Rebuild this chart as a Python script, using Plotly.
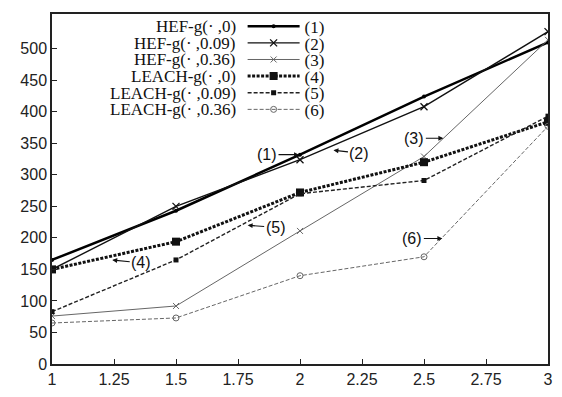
import plotly.graph_objects as go

x_vals = [1, 1.5, 2, 2.5, 3]
hef_0 = [165, 243, 332, 424, 510]
hef_009 = [150, 250, 324, 408, 527]
hef_036 = [76, 92, 211, 329, 514]
leach_0 = [150, 194, 272, 320, 384]
leach_009 = [83, 165, 270, 291, 393]
leach_036 = [65, 73, 140, 170, 377]

series_names = ["HEF-g(\u00b7 ,0)", "HEF-g(\u00b7 ,0.09)", "HEF-g(\u00b7 ,0.36)",
                "LEACH-g(\u00b7 ,0)", "LEACH-g(\u00b7 ,0.09)", "LEACH-g(\u00b7 ,0.36)"]
series_tags = ["(1)", "(2)", "(3)", "(4)", "(5)", "(6)"]
x_ticks = [1, 1.25, 1.5, 1.75, 2, 2.25, 2.5, 2.75, 3]
y_ticks = [0, 50, 100, 150, 200, 250, 300, 350, 400, 450, 500]

# callouts: label, arrow head (data coords), text offset in px
callouts = [
    ("(1)", 1.996, 332, -32, 0),
    ("(2)", 2.135, 339, 26, 3),
    ("(3)", 2.578, 358, -29, 0),
    ("(4)", 1.243, 165, 29, 3),
    ("(5)", 1.789, 220, 28, 2),
    ("(6)", 2.574, 199, -30, 0),
]

styles = [
    dict(line=dict(color="#000", width=2.5), marker=dict(symbol="circle", size=4, color="#000")),
    dict(line=dict(color="#111", width=1.4), marker=dict(symbol="x-thin-open", size=7, line=dict(color="#111", width=1.3))),
    dict(line=dict(color="#666", width=1), marker=dict(symbol="x-thin-open", size=6, line=dict(color="#666", width=1))),
    dict(line=dict(color="#111", width=3, dash="3px,1.5px"), marker=dict(symbol="square", size=8, color="#111")),
    dict(line=dict(color="#222", width=1.4, dash="4px,2px"), marker=dict(symbol="square", size=5, color="#111")),
    dict(line=dict(color="#666", width=1, dash="4px,2px"), marker=dict(symbol="circle-open", size=6, color="#666", line=dict(color="#666", width=1))),
]

data = [hef_0, hef_009, hef_036, leach_0, leach_009, leach_036]

fig = go.Figure()
legend_ids = ["legend", "legend2", "legend3", "legend4", "legend5", "legend6"]
for i, ys in enumerate(data):
    fig.add_trace(go.Scatter(x=x_vals, y=ys, mode="lines+markers", name=series_tags[i],
                             legend=legend_ids[i], showlegend=True, **styles[i]))

# page body has an 8px margin; keep figure inside the viewport (no scrollbars)
OFF = 8
W, H = 562 - 2 * OFF, 397 - 2 * OFF
ml, mr, mt, mb = 52 - OFF, 5, 1, 22
ph = H - mt - mb
pw = W - ml - mr
row_px = [22, 39, 56, 73, 90, 107]  # screen rows


def px_to_paper_x(sx):
    return (sx - OFF - ml) / pw


def py_to_paper_y(sy):
    return (H - mb - (sy - OFF)) / ph


layout_legends = {}
annotations = []
for i, py in enumerate(row_px):
    yp = py_to_paper_y(py)
    layout_legends[legend_ids[i]] = dict(
        x=px_to_paper_x(243), xanchor="left", y=yp, yanchor="middle",
        bgcolor="rgba(0,0,0,0)", borderwidth=0, itemwidth=52,
        font=dict(family="Liberation Serif", size=17, color="#111"),
        itemclick=False, itemdoubleclick=False, visible=True)
    annotations.append(dict(x=px_to_paper_x(238), y=yp, xref="paper", yref="paper",
                            text=series_names[i], showarrow=False, xanchor="right", yanchor="middle",
                            font=dict(family="Liberation Serif", size=17, color="#111")))

for txt, hx, hy, ax, ay in callouts:
    annotations.append(dict(x=hx, y=hy, xref="x", yref="y", text=txt, showarrow=True,
                            ax=ax, ay=ay, arrowhead=2, arrowsize=0.9, arrowwidth=1.1,
                            arrowcolor="#111", standoff=0,
                            font=dict(family="Liberation Sans", size=16, color="#111")))

fig.update_layout(
    width=W, height=H,
    margin=dict(l=ml, r=mr, t=mt, b=mb),
    paper_bgcolor="white", plot_bgcolor="white",
    showlegend=True,
    annotations=annotations,
    **layout_legends,
)
fig.update_xaxes(range=[1, 3], tickvals=x_ticks, ticktext=[f"{v:g}" for v in x_ticks],
                 ticks="inside", ticklen=5, tickcolor="#222", showgrid=False, zeroline=False,
                 showline=True, linecolor="#222", linewidth=1.5, mirror=True,
                 ticklabeloverflow="allow",
                 tickfont=dict(family="Liberation Sans", size=16, color="#222"))
fig.update_yaxes(range=[0, 555], tickvals=y_ticks, ticks="inside", ticklen=5, tickcolor="#222",
                 showgrid=False, zeroline=False, showline=True, linecolor="#222", linewidth=1.5,
                 mirror=True, ticklabeloverflow="allow",
                 tickfont=dict(family="Liberation Sans", size=16, color="#222"))

fig.write_html("out.html")
